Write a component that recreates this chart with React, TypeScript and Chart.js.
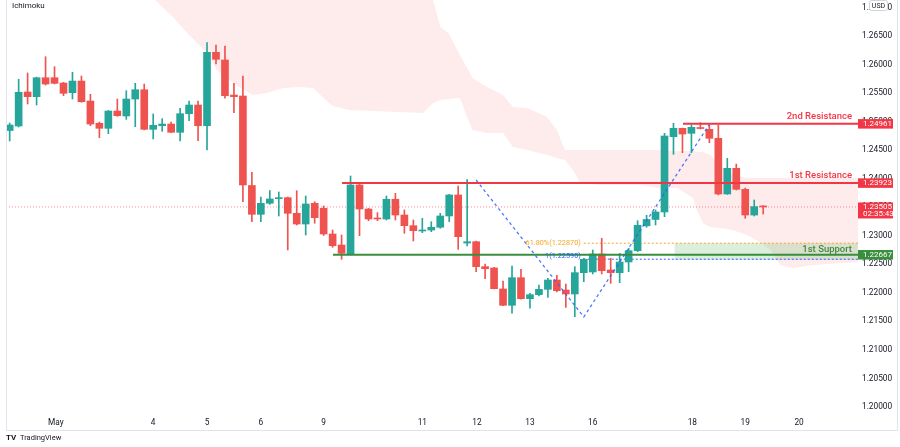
import React, { useEffect, useRef } from "react";
import { Chart, registerables } from "chart.js";

Chart.register(...registerables);

// ---- time axis (4H candles, index based) ----
const dayLabels = ["May", "4", "5", "6", "9", "11", "12", "13", "16", "18", "19", "20"];
const dayIndex = [5.15, 16, 22, 28, 35, 46, 52.1, 58, 65, 76.1, 82, 88];

// ---- candles ----
const opens = [
  1.24844, 1.24923, 1.25519, 1.25437, 1.25769, 1.25769, 1.25676, 1.25507, 1.25711, 1.25361,
  1.24971, 1.24883, 1.25186, 1.25099, 1.25396, 1.25559, 1.24865, 1.24928, 1.24958, 1.24813,
  1.25139, 1.25291, 1.24928, 1.26214, 1.2608, 1.25466, 1.25449, 1.23881, 1.23376, 1.23569,
  1.2365, 1.23668, 1.23394, 1.23206, 1.23569, 1.23482, 1.23031, 1.22838, 1.22681, 1.2389,
  1.23469, 1.23306, 1.23294, 1.2364, 1.23364, 1.23177, 1.23084, 1.23101, 1.23149, 1.23347,
  1.23715, 1.22873, 1.22896, 1.22459, 1.22436, 1.22068, 1.21782, 1.22266, 1.21898, 1.21968,
  1.22062, 1.22225, 1.2205, 1.2198, 1.22354, 1.22366, 1.22681, 1.22401, 1.22354, 1.22541,
  1.22739, 1.23175, 1.23286, 1.23417, 1.24736, 1.24883, 1.24795, 1.24897, 1.24865, 1.24708,
  1.23732, 1.24182, 1.23814, 1.23364, 1.23511,
];
const highs = [
  1.24976, 1.25741, 1.25852, 1.2578, 1.26137, 1.25962, 1.2569, 1.25864, 1.25799, 1.25479,
  1.24993, 1.25195, 1.25396, 1.25542, 1.25671, 1.25659, 1.25134, 1.25051, 1.24993, 1.25233,
  1.25361, 1.25361, 1.26383, 1.26342, 1.26325, 1.25671, 1.25799, 1.24112, 1.2368, 1.23793,
  1.23767, 1.2368, 1.2379, 1.23697, 1.23597, 1.23522, 1.23101, 1.23014, 1.24047, 1.239,
  1.2348, 1.23405, 1.23697, 1.23744, 1.23452, 1.23277, 1.23306, 1.23247, 1.23394, 1.23725,
  1.23872, 1.23986, 1.22908, 1.22506, 1.22448, 1.22208, 1.22471, 1.22413, 1.21992, 1.22138,
  1.22255, 1.22308, 1.22155, 1.22459, 1.22606, 1.22751, 1.22956, 1.22606, 1.22693, 1.22781,
  1.23264, 1.23359, 1.23452, 1.24795, 1.2497, 1.24888, 1.24941, 1.24981, 1.24941, 1.24941,
  1.24357, 1.24257, 1.23837, 1.23627, 1.23528,
];
const lows = [
  1.24661, 1.24906, 1.25309, 1.25291, 1.25641, 1.2566, 1.25454, 1.25396, 1.2534, 1.24928,
  1.24718, 1.24789, 1.25093, 1.2504, 1.24911, 1.24855, 1.24696, 1.2483, 1.24805, 1.24661,
  1.25016, 1.24666, 1.24503, 1.26009, 1.25409, 1.25157, 1.23597, 1.23247, 1.23247, 1.23551,
  1.23347, 1.22751, 1.23189, 1.23014, 1.23219, 1.23005, 1.22798, 1.22588, 1.22663, 1.23002,
  1.23264, 1.23264, 1.23277, 1.23277, 1.23043, 1.22909, 1.23054, 1.23072, 1.23131, 1.23247,
  1.22763, 1.22821, 1.22371, 1.22248, 1.22068, 1.21777, 1.21642, 1.2189, 1.2173, 1.21945,
  1.21922, 1.22015, 1.21747, 1.21583, 1.22196, 1.22331, 1.22331, 1.22167, 1.22178, 1.22371,
  1.22721, 1.23149, 1.23189, 1.23335, 1.24428, 1.24456, 1.24456, 1.24871, 1.24631, 1.23715,
  1.23725, 1.23802, 1.23306, 1.23347, 1.23382,
];
const closes = [
  1.24941, 1.25514, 1.25437, 1.25769, 1.25659, 1.25671, 1.25496, 1.25711, 1.25349, 1.24958,
  1.24883, 1.25186, 1.25104, 1.25396, 1.25559, 1.24865, 1.24936, 1.24958, 1.24813, 1.25139,
  1.25291, 1.24928, 1.26214, 1.26092, 1.25454, 1.25437, 1.2389, 1.23376, 1.23569, 1.23645,
  1.23662, 1.23394, 1.23206, 1.23557, 1.23317, 1.23031, 1.22826, 1.22693, 1.2389, 1.23469,
  1.23294, 1.23294, 1.2364, 1.23364, 1.23177, 1.23089, 1.23101, 1.23149, 1.23347, 1.23715,
  1.22984, 1.22896, 1.22459, 1.22424, 1.22073, 1.21782, 1.22266, 1.21898, 1.21968, 1.22062,
  1.22225, 1.22038, 1.2198, 1.22354, 1.22588, 1.22681, 1.22389, 1.22354, 1.22541, 1.22739,
  1.23184, 1.23286, 1.23417, 1.24748, 1.24883, 1.24783, 1.249, 1.24879, 1.24708, 1.23732,
  1.24182, 1.23814, 1.23364, 1.23511, 1.23505,
];

// ---- Ichimoku cloud (span boundaries) ----
const cloudX = [
  15, 16.2, 18.2, 19.8, 20.9, 22, 23.1, 24.9, 27.1, 28.7, 30.5, 32.4, 33.8, 34.9, 36, 37.9, 46.1,
  47.2, 48, 48.9, 50.2, 51, 51.6, 53.2, 55, 56.1, 57.7, 59.9, 61, 61.9, 62.8, 63.6, 65.8, 70.3,
  72.5, 74.4, 76.2, 76.6, 77.3, 78.1, 79.2, 80.6, 82.2, 83.6, 84.8, 85.9, 87.3, 89.6, 94.6,
];
const cloudTop = [
  1.28, 1.28, 1.28, 1.28, 1.28, 1.28, 1.28, 1.28, 1.28, 1.28, 1.28, 1.28, 1.28, 1.28, 1.28, 1.28, 1.28,
  1.27131, 1.26658, 1.26552, 1.26167, 1.2594, 1.25764, 1.25607, 1.25466, 1.25256, 1.25239, 1.25081, 1.24853, 1.24503, 1.24503, 1.24503, 1.24503, 1.24503,
  1.24503, 1.24486, 1.24486, 1.24468, 1.24468, 1.24416, 1.2424, 1.24065, 1.24012, 1.24012, 1.24012, 1.24012, 1.24012, 1.24012, 1.24012,
];
const cloudBottom = [
  1.27306, 1.27131, 1.26833, 1.26552, 1.26377, 1.26202, 1.25904, 1.25677, 1.25466, 1.25501, 1.25589, 1.25607, 1.25589, 1.25431, 1.25274, 1.25204, 1.25151,
  1.25326, 1.25379, 1.25396, 1.25414, 1.25081, 1.24853, 1.24801, 1.24801, 1.24555, 1.24503, 1.24415, 1.24363, 1.24328, 1.24152, 1.23925, 1.2389, 1.2389,
  1.23837, 1.23837, 1.23662, 1.23452, 1.23224, 1.23154, 1.23137, 1.23101, 1.23014, 1.22891, 1.22751, 1.22488, 1.22436, 1.22488, 1.22541,
];

// ---- levels & drawings ----
const resistance2 = 1.24961;
const resistance1 = 1.23923;
const support1 = 1.22667;
const currentPrice = 1.23505;
const countdown = "02:35:43";
const fib618 = 1.2287;
const fib100 = 1.2259;
const zoneTop = 1.22868;
const zoneBottom = 1.22576;
const res2Start = 75.06;
const res1Start = 37.05;
const sup1Start = 36.04;
const fibStart = 64;
const zoneStart = 74.1;
const swingX = [52, 64, 78];
const swingY = [1.23977, 1.21578, 1.2495];

const X_MIN = -0.41;
const X_MAX = 94.57;
const Y_MIN = 1.1986;
const Y_MAX = 1.27131;

const GREEN = "#26a69a";
const RED = "#ef5350";
const FONT = "Roboto";

const hline = (from: number, v: number) => [
  { x: from, y: v },
  { x: X_MAX, y: v },
];

const deco = {
  id: "deco",
  afterDraw(chart: any) {
    const { ctx, scales } = chart;
    const xs = scales.x;
    const ys = scales.y;
    ctx.save();
    // frame
    ctx.strokeStyle = "#e0e3eb";
    ctx.lineWidth = 1;
    ctx.beginPath();
    ctx.moveTo(6.5, 0);
    ctx.lineTo(6.5, 430.5);
    ctx.lineTo(897.5, 430.5);
    ctx.lineTo(897.5, 0);
    ctx.stroke();

    // title
    ctx.fillStyle = "#131722";
    ctx.font = `8px ${FONT}`;
    ctx.textAlign = "left";
    ctx.textBaseline = "middle";
    ctx.fillText("Ichimoku", 12, 5.5);

    // annotations
    const right = xs.getPixelForValue(X_MAX) - 6;
    ctx.textAlign = "right";
    ctx.textBaseline = "middle";
    ctx.font = `500 9.5px ${FONT}`;
    ctx.fillStyle = "#f23645";
    ctx.fillText("2nd Resistance", right, ys.getPixelForValue(resistance2) - 7);
    ctx.fillText("1st Resistance", right, ys.getPixelForValue(resistance1) - 7);
    ctx.fillStyle = "#3f8a3f";
    ctx.fillText("1st Support", right, ys.getPixelForValue(zoneTop) + 6);

    // fib labels
    ctx.font = `7.3px ${FONT}`;
    const fx = xs.getPixelForValue(fibStart) - 3;
    ctx.fillStyle = "#f5a623";
    ctx.fillText("61.80%(1.22870)", fx, ys.getPixelForValue(fib618));
    ctx.fillStyle = "#2962ff";
    ctx.fillText("1(1.22590)", fx, ys.getPixelForValue(fib100) - 3);

    // price boxes
    const bx = xs.getPixelForValue(X_MAX);
    const box = (v: number, bg: string, lines: string[]) => {
      const cy = ys.getPixelForValue(v);
      const h = lines.length === 1 ? 9.5 : 16;
      const top = lines.length === 1 ? cy - h / 2 : cy - 4.5;
      ctx.fillStyle = bg;
      ctx.fillRect(bx, top, 35, h);
      ctx.fillStyle = "#ffffff";
      ctx.font = `8px ${FONT}`;
      ctx.textAlign = "left";
      ctx.textBaseline = "middle";
      lines.forEach((t, i) => ctx.fillText(t, bx + 5, top + 4.9 + i * 7));
    };
    box(resistance2, "#f23645", [resistance2.toFixed(5)]);
    box(resistance1, "#f23645", [resistance1.toFixed(5)]);
    box(currentPrice, "#f23645", [currentPrice.toFixed(5), countdown]);
    box(support1, "#388e3c", [support1.toFixed(5)]);

    // USD badge
    ctx.fillStyle = "#ffffff";
    ctx.strokeStyle = "#d1d4dc";
    ctx.lineWidth = 1;
    ctx.beginPath();
    (ctx as any).roundRect(869.5, 0.5, 18, 10, 2);
    ctx.fill();
    ctx.stroke();
    ctx.fillStyle = "#131722";
    ctx.font = `7px ${FONT}`;
    ctx.textAlign = "center";
    ctx.fillText("USD", 878.5, 5.8);

    // TradingView logo
    ctx.textAlign = "left";
    ctx.font = `bold 8px ${FONT}`;
    ctx.fillText("TV", 6, 438);
    ctx.font = `7.5px ${FONT}`;
    ctx.fillText("TradingView", 20, 438);
    ctx.restore();
  },
};

export default function App() {
  const ref = useRef<HTMLCanvasElement | null>(null);

  useEffect(() => {
    if (!ref.current) return;
    const idx = opens.map((_, i) => i);
    const colors = idx.map((i) => (closes[i] >= opens[i] ? GREEN : RED));

    const datasets: any[] = [
      {
        type: "line",
        data: cloudX.map((x, i) => ({ x, y: cloudBottom[i] })),
        borderWidth: 0,
        pointRadius: 0,
        fill: false,
        order: 30,
      },
      {
        type: "line",
        data: cloudX.map((x, i) => ({ x, y: cloudTop[i] })),
        borderWidth: 0,
        pointRadius: 0,
        fill: "-1",
        backgroundColor: "rgba(242,54,69,0.1)",
        order: 29,
      },
      {
        type: "line",
        data: hline(zoneStart, zoneBottom),
        borderWidth: 0,
        pointRadius: 0,
        fill: false,
        order: 28,
      },
      {
        type: "line",
        data: hline(zoneStart, zoneTop),
        borderWidth: 0,
        pointRadius: 0,
        fill: "-1",
        backgroundColor: "rgba(76,175,80,0.2)",
        order: 27,
      },
      {
        type: "line",
        data: hline(X_MIN, currentPrice),
        borderColor: "rgba(242,54,69,0.6)",
        borderWidth: 1,
        borderDash: [1, 2],
        pointRadius: 0,
        fill: false,
        order: 26,
      },
      {
        type: "line",
        data: hline(fibStart, fib618),
        borderColor: "#f5a623",
        borderWidth: 1,
        borderDash: [2, 2],
        pointRadius: 0,
        fill: false,
        order: 25,
      },
      {
        type: "line",
        data: hline(fibStart, fib100),
        borderColor: "#2962ff",
        borderWidth: 1,
        borderDash: [2, 2],
        pointRadius: 0,
        fill: false,
        order: 24,
      },
      {
        type: "bar",
        data: idx.map((i) => ({ x: i, y: [lows[i], highs[i]] })),
        backgroundColor: colors,
        barThickness: 1,
        grouped: false,
        order: 20,
      },
      {
        type: "bar",
        data: idx.map((i) => ({ x: i, y: [opens[i], closes[i]] })),
        backgroundColor: colors,
        barThickness: 7,
        minBarLength: 1,
        grouped: false,
        order: 19,
      },
      {
        type: "line",
        data: hline(res2Start, resistance2),
        borderColor: "#f23645",
        borderWidth: 2,
        pointRadius: 0,
        fill: false,
        order: 5,
      },
      {
        type: "line",
        data: hline(res1Start, resistance1),
        borderColor: "#f23645",
        borderWidth: 2,
        pointRadius: 0,
        fill: false,
        order: 5,
      },
      {
        type: "line",
        data: hline(sup1Start, support1),
        borderColor: "#388e3c",
        borderWidth: 2,
        pointRadius: 0,
        fill: false,
        order: 5,
      },
      {
        type: "line",
        data: swingX.map((x, i) => ({ x, y: swingY[i] })),
        borderColor: "rgba(41,98,255,0.85)",
        borderWidth: 1.3,
        borderDash: [3, 3],
        pointRadius: 0,
        fill: false,
        order: 4,
      },
    ];

    const chart = new Chart(ref.current, {
      type: "bar",
      data: { datasets },
      plugins: [deco],
      options: {
        responsive: false,
        animation: false,
        events: [],
        layout: { padding: { left: 6, right: 2, top: 0, bottom: 17 } },
        plugins: { legend: { display: false }, tooltip: { enabled: false } },
        scales: {
          x: {
            type: "linear",
            min: X_MIN,
            max: X_MAX,
            offset: false,
            grid: { display: false, drawTicks: false },
            border: { display: false },
            afterBuildTicks: (axis: any) => {
              axis.ticks = dayIndex.map((v) => ({ value: v }));
            },
            afterFit: (s: any) => {
              s.height = 15;
              s.paddingLeft = 0;
              s.paddingRight = 0;
            },
            ticks: {
              autoSkip: false,
              maxRotation: 0,
              padding: 3,
              color: "#131722",
              font: { family: FONT, size: 8.3 },
              callback: (_v: any, i: number) => dayLabels[i],
            },
          },
          y: {
            type: "linear",
            position: "right",
            min: Y_MIN,
            max: Y_MAX,
            grid: { display: false, drawTicks: false },
            border: { display: false },
            afterFit: (s: any) => {
              s.width = 40;
              s.paddingTop = 0;
              s.paddingBottom = 0;
            },
            ticks: {
              stepSize: 0.005,
              includeBounds: false,
              padding: 4,
              color: "#131722",
              font: { family: FONT, size: 8.3 },
              callback: (v: any) => Number(v).toFixed(5),
            },
          },
        },
      } as any,
    });
    return () => chart.destroy();
  }, []);

  return (
    <div style={{ position: "absolute", left: 0, top: 0, width: 900, height: 447, background: "#ffffff" }}>
      <canvas ref={ref} width={900} height={447} />
    </div>
  );
}
